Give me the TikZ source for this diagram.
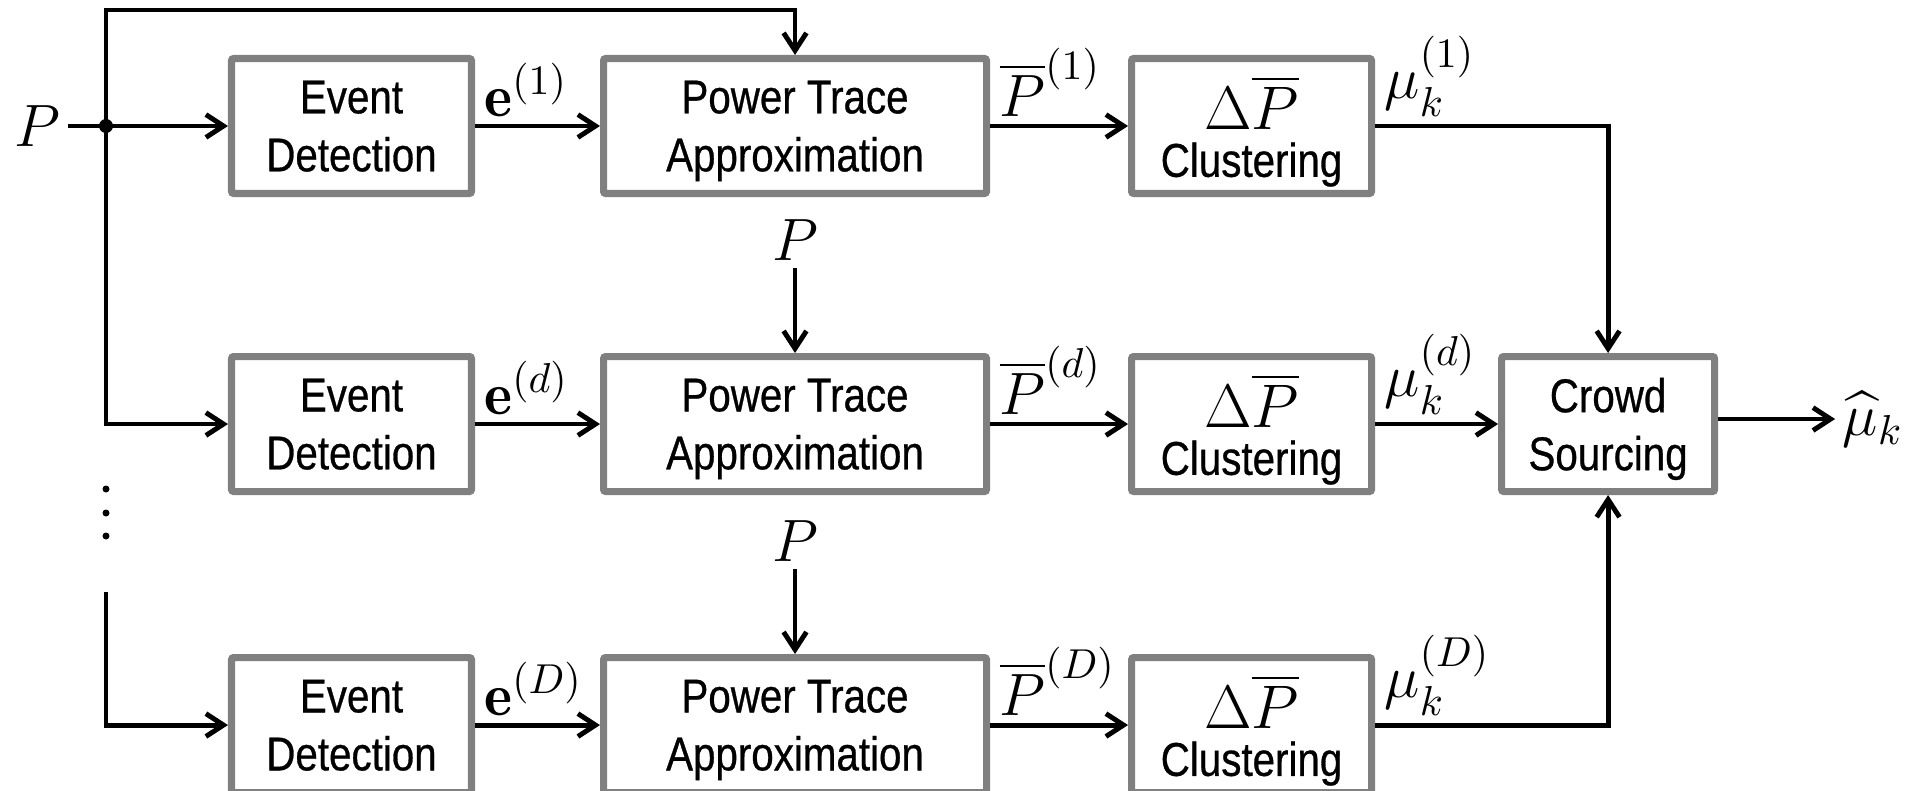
\RequirePackage{fix-cm}
\documentclass[tikz,border=0pt]{standalone}
\usepackage{amsmath}
\usepackage{fontspec}
\newfontfamily\blockfont{Liberation Sans}[FakeStretch=0.85,FakeBold=0.6]
\usepackage{tikz}
\usetikzlibrary{positioning}
\usetikzlibrary{arrows.meta}
\definecolor{boxgray}{HTML}{808080}
\tikzset{
  block/.style={rectangle,draw=boxgray,line width=2pt,fill=white,
                minimum width=2.40cm,minimum height=1.35cm,align=center,
                inner sep=0pt,rounded corners=0.6pt,text depth=0pt,
                font=\blockfont\fontsize{13.5}{16.5}\selectfont},
  wideblock/.style={block,minimum width=3.83cm},
  crowdblock/.style={block,minimum width=2.13cm},
  sigflow/.style={-{Straight Barb[length=5pt,width=6.5pt]},line width=1.4pt},
  sigline/.style={line width=1.4pt},
  siglabel/.style={font=\fontsize{17}{19}\selectfont,inner sep=2pt},
}

\begin{document}
\begin{tikzpicture}[node distance=1.56cm]
  \useasboundingbox (0,0) rectangle (19.07,-7.91);

  % three chains
  \node[block] (ed1) at (3.515,-1.26) {Event\\Detection};
  \node[block] (ed2) [below=of ed1]   {Event\\Detection};
  \node[block] (ed3) [below=1.59cm of ed2] {Event\\Detection};

  \node[wideblock] (pt1) [right=1.25cm of ed1] {Power Trace\\Approximation};
  \node[wideblock] (pt2) [right=1.25cm of ed2] {Power Trace\\Approximation};
  \node[wideblock] (pt3) [right=1.25cm of ed3] {Power Trace\\Approximation};

  \node[block] (cl1) [right=1.38cm of pt1]
      {{\fontsize{17.5}{17}\selectfont$\Delta\overline{P}$}\\[-3pt]Clustering};
  \node[block] (cl2) [right=1.38cm of pt2]
      {{\fontsize{17.5}{17}\selectfont$\Delta\overline{P}$}\\[-3pt]Clustering};
  \node[block] (cl3) [right=1.38cm of pt3]
      {{\fontsize{17.5}{17}\selectfont$\Delta\overline{P}$}\\[-3pt]Clustering};

  \node[crowdblock] (crowd) [right=1.23cm of cl2] {Crowd\\Sourcing};
  \node[siglabel,anchor=west] (muhat) [right=1.17cm of crowd,yshift=0.05cm] {$\widehat{\mu}_k$};

  % input P and its branches
  \node[siglabel,anchor=east] (pin) at (0.68,-1.26) {$P$};
  \coordinate (split) at (1.06,-1.26);
  \coordinate (tap)   at (1.06,-0.10);
  \coordinate (tail)  at (1.06,-5.92);
  \node[siglabel] (pu2) [above=0.85cm of pt2] {$P$};
  \node[siglabel] (pu3) [above=0.85cm of pt3] {$P$};

  \draw[sigline] (pin) -- (split);
  \draw[sigflow] (split) -- (ed1);
  \draw[sigflow] (split) -- (tap) -| (pt1.north);
  \draw[sigflow] (split) |- (ed2.west);
  \draw[sigflow] (tail) |- (ed3.west);
  \fill (split) circle (0.07);
  \foreach \y in {4.89,5.13,5.36}
    \fill (1.06,-\y) circle (0.035);

  \draw[sigflow] (pu2) -- (pt2);
  \draw[sigflow] (pu3) -- (pt3);

  % signal flow along each chain
  \draw[sigflow] (ed1) -- node[siglabel,anchor=south west,pos=0] {$\mathbf{e}^{(1)}$} (pt1);
  \draw[sigflow] (ed2) -- node[siglabel,anchor=south west,pos=0] {$\mathbf{e}^{(d)}$} (pt2);
  \draw[sigflow] (ed3) -- node[siglabel,anchor=south west,pos=0] {$\mathbf{e}^{(D)}$} (pt3);

  \draw[sigflow] (pt1) -- node[siglabel,anchor=south west,pos=0] {$\overline{P}^{(1)}$} (cl1);
  \draw[sigflow] (pt2) -- node[siglabel,anchor=south west,pos=0] {$\overline{P}^{(d)}$} (cl2);
  \draw[sigflow] (pt3) -- node[siglabel,anchor=south west,pos=0] {$\overline{P}^{(D)}$} (cl3);

  \draw[sigflow] (cl1) -| node[siglabel,anchor=south west,pos=0] {$\mu_k^{(1)}$} (crowd);
  \draw[sigflow] (cl2) -- node[siglabel,anchor=south west,pos=0] {$\mu_k^{(d)}$} (crowd);
  \draw[sigflow] (cl3) -| node[siglabel,anchor=south west,pos=0] {$\mu_k^{(D)}$} (crowd);

  \draw[sigflow] ([yshift=0.05cm]crowd.east) -- (muhat);
\end{tikzpicture}
\end{document}
